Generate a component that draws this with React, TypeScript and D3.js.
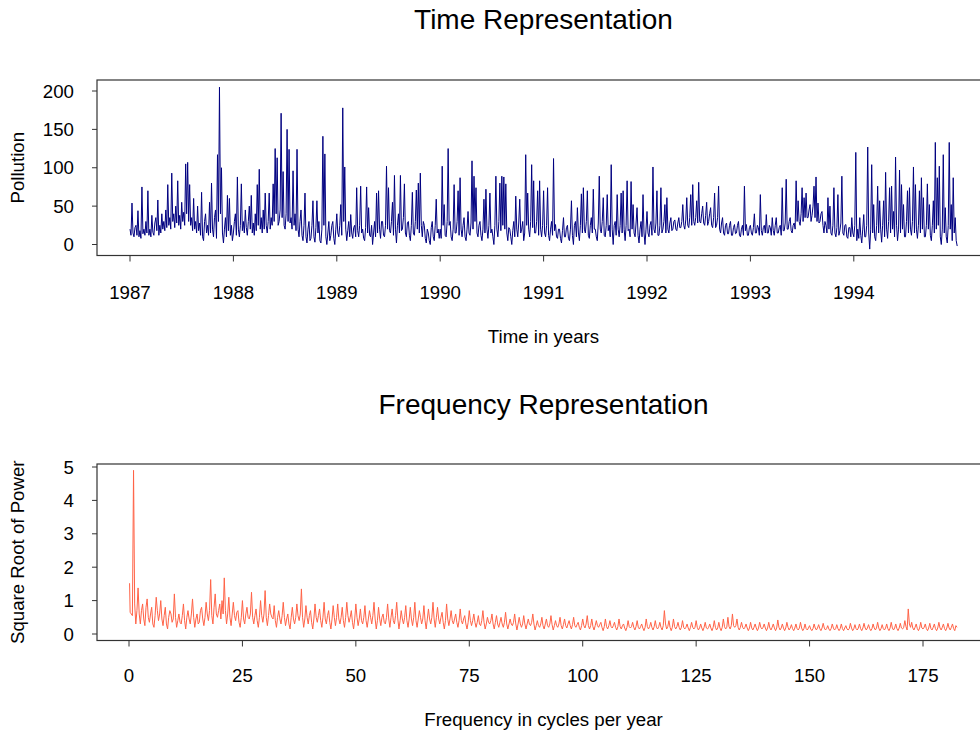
import React from 'react';
import * as d3 from 'd3';

// pollution readings, two per week, one array per year
const pollution1987 = [
  20, 12, 54, 15, 10, 22, 25, 12, 44, 10, 18, 8, 75, 14, 20, 12, 30, 15, 70, 12, 20, 10, 38, 16,
  12, 28, 35, 18, 58, 12, 25, 15, 40, 20, 30, 18, 45, 22, 78, 25, 35, 20, 93, 30, 40, 22, 50, 28,
  83, 25, 38, 20, 55, 30, 42, 25, 105, 40, 107, 30, 78, 25, 35, 18, 60, 20, 30, 15, 50, 18, 28, 12,
  68, 10, 5, 30, 40, 15, 25, 12, 55, 15, 80, 20, 10, 35, 45, 8, 117, 30, 205, 40, 100, 15, 2, 20,
  35, 10, 64, 18, 60, 12, 25, 5,
];
const pollution1988 = [
  15, 30, 40, 12, 88, 20, 10, 25, 79, 18, 30, 15, 45, 22, 12, 30, 50, 20, 64, 15, 28, 12, 40, 18,
  78, 25, 98, 20, 35, 15, 45, 20, 67, 25, 15, 30, 67, 20, 35, 25, 79, 30, 125, 40, 113, 25, 30, 45,
  171, 35, 95, 25, 20, 40, 150, 30, 124, 28, 35, 20, 96, 25, 40, 18, 124, 20, 10, 30, 45, 12, 5, 25,
  67, 10, 2, 20, 30, 5, 8, 25, 57, 10, 3, 22, 57, 15, 30, 5, 2, 20, 141, 25, 118, 10, 0, 15,
  30, 5, 12, 25, 30, 8, 0, 20,
];
const pollution1989 = [
  40, 15, 10, 25, 52, 12, 178, 30, 101, 20, 5, 18, 30, 10, 39, 15, 8, 22, 25, 10, 74, 18, 10, 25,
  76, 15, 20, 8, 5, 22, 75, 15, 48, 12, 10, 25, 0, 15, 30, 10, 67, 15, 70, 20, 8, 30, 30, 12,
  10, 25, 102, 20, 74, 18, 15, 30, 55, 12, 90, 20, 2, 25, 40, 15, 90, 18, 20, 35, 79, 15, 10, 28,
  30, 12, 5, 25, 68, 15, 12, 30, 71, 20, 80, 15, 93, 25, 10, 30, 25, 8, 2, 20, 15, 5, 0, 22,
  30, 10, 5, 25, 59, 15, 20, 8,
];
const pollution1990 = [
  20, 8, 102, 25, 52, 12, 10, 30, 125, 25, 30, 10, 5, 20, 78, 15, 15, 30, 70, 12, 87, 20, 10, 25,
  35, 10, 5, 20, 43, 15, 12, 28, 109, 20, 89, 30, 74, 15, 10, 25, 30, 12, 5, 20, 59, 15, 72, 20,
  8, 25, 67, 15, 20, 10, 0, 25, 89, 20, 10, 30, 80, 18, 89, 25, 88, 20, 79, 15, 5, 22, 20, 10,
  0, 18, 30, 10, 63, 20, 10, 28, 59, 15, 20, 30, 5, 15, 117, 25, 67, 20, 10, 30, 104, 22, 83, 15,
  15, 30, 70, 12, 83, 20, 10, 25,
];
const pollution1991 = [
  70, 15, 10, 25, 74, 12, 5, 20, 30, 12, 112, 18, 26, 10, 8, 20, 20, 8, 2, 18, 35, 10, 10, 22,
  25, 8, 5, 20, 57, 12, 0, 25, 30, 10, 48, 15, 5, 25, 66, 15, 74, 20, 15, 30, 70, 12, 8, 25,
  35, 15, 72, 20, 20, 10, 5, 28, 89, 20, 15, 30, 61, 12, 10, 25, 65, 18, 25, 10, 104, 20, 0, 25,
  30, 12, 65, 20, 10, 25, 67, 15, 70, 20, 5, 25, 83, 18, 20, 10, 82, 20, 52, 15, 10, 28, 48, 12,
  2, 20, 30, 10, 65, 15, 0, 20,
];
const pollution1992 = [
  43, 15, 10, 25, 30, 12, 101, 20, 15, 28, 70, 12, 12, 25, 74, 15, 20, 30, 52, 15, 61, 20, 15, 28,
  35, 18, 20, 30, 32, 20, 18, 28, 35, 22, 22, 30, 52, 25, 20, 32, 61, 25, 22, 35, 65, 25, 78, 30,
  25, 35, 57, 28, 81, 30, 28, 40, 50, 28, 25, 38, 55, 25, 30, 40, 48, 25, 22, 35, 67, 22, 25, 35,
  76, 20, 15, 28, 35, 15, 12, 25, 28, 14, 14, 25, 30, 12, 12, 22, 26, 14, 15, 25, 30, 12, 10, 20,
  25, 12, 76, 18, 26, 12, 12, 22,
];
const pollution1993 = [
  25, 15, 12, 22, 40, 15, 15, 25, 22, 12, 65, 18, 12, 22, 25, 15, 39, 15, 15, 25, 22, 12, 35, 18,
  12, 25, 35, 15, 15, 22, 25, 12, 74, 18, 18, 28, 85, 20, 20, 30, 35, 18, 15, 25, 28, 20, 83, 30,
  57, 30, 25, 40, 74, 30, 61, 35, 67, 35, 35, 45, 52, 30, 38, 50, 76, 35, 88, 30, 54, 28, 30, 40,
  43, 25, 15, 30, 25, 15, 61, 20, 50, 15, 12, 25, 74, 15, 10, 22, 65, 12, 18, 28, 89, 15, 12, 25,
  26, 10, 8, 22, 22, 10, 35, 15,
];
const pollution1994 = [
  10, 25, 120, 5, 20, 8, 35, 12, 2, 20, 39, 10, 10, 25, 127, 15, -6, 20, 104, 15, 52, 10, 5, 25,
  76, 15, 57, 20, 3, 25, 57, 10, 94, 20, 8, 30, 74, 15, 76, 20, 43, 10, 114, 25, 5, 20, 97, 15,
  78, 20, 52, 10, 10, 30, 70, 15, 74, 20, 12, 30, 101, 15, 78, 20, 8, 25, 70, 15, 87, 20, 61, 10,
  10, 25, 79, 20, 52, 12, 5, 25, 57, 15, 133, 20, 87, 25, 102, 10, 0, 20, 117, 15, 48, 10, 2, 25,
  133, 20, 52, 5, 87, 15, 35, 5, -2,
];

const years = [1987, 1988, 1989, 1990, 1991, 1992, 1993, 1994];
const pollutionTicks = [0, 50, 100, 150, 200];

// spectrum: the lowest frequencies, then readings every quarter cycle per year from 2 to 182.5
const lowFreqs = [0.125, 0.25, 0.5, 0.75, 1, 1.25, 1.5, 1.75];
const lowPower = [1.52, 0.65, 0.6, 0.55, 4.9, 0.9, 0.3, 0.7];
const powerFrom2 = [
  1.38, 0.6, 0.3, 0.7, 0.9, 0.45, 0.25, 0.8, 1.05, 0.5, 0.35, 0.6, 0.8, 0.3, 0.2, 0.55, 1.1, 0.7, 0.4, 0.6,
  1.0, 0.45, 0.25, 0.55, 0.8, 0.3, 0.15, 0.5, 0.7, 0.6, 0.35, 0.45, 1.2, 0.5, 0.2, 0.4, 0.6, 0.35, 0.3, 0.55,
  0.9, 0.4, 0.15, 0.5, 0.7, 0.45, 0.3, 0.6, 1.05, 0.5, 0.2, 0.45, 0.6, 0.3, 0.35, 0.7, 0.8, 0.45, 0.25, 0.5,
  0.95, 0.6, 0.4, 0.7, 1.63, 0.55, 0.3, 0.8, 1.2, 0.6, 0.5, 0.7, 0.9, 0.45, 1.0, 0.6, 1.68, 0.7, 0.3, 0.6,
  1.1, 0.5, 0.25, 0.6, 0.95, 0.55, 0.4, 0.65, 0.7, 0.35, 0.2, 0.5, 1.0, 0.45, 0.3, 0.6, 0.8, 0.5, 0.45, 0.6,
  1.25, 0.5, 0.3, 0.55, 0.75, 0.4, 0.2, 0.5, 1.0, 0.55, 0.35, 0.6, 1.3, 0.5, 0.25, 0.55, 0.9, 0.6, 0.5, 0.45,
  0.85, 0.4, 0.2, 0.5, 0.7, 0.45, 0.3, 0.55, 0.95, 0.5, 0.25, 0.45, 0.6, 0.3, 0.15, 0.5, 0.8, 0.45, 0.3, 0.5,
  0.9, 0.55, 0.4, 0.6, 1.35, 0.5, 0.2, 0.45, 0.85, 0.5, 0.3, 0.55, 0.7, 0.35, 0.15, 0.45, 0.9, 0.5, 0.35, 0.55,
  0.75, 0.4, 0.2, 0.5, 0.95, 0.45, 0.3, 0.55, 0.7, 0.35, 0.15, 0.45, 0.85, 0.5, 0.25, 0.5, 0.9, 0.45, 0.3, 0.5,
  0.8, 0.4, 0.2, 0.5, 0.95, 0.55, 0.35, 0.5, 0.7, 0.35, 0.15, 0.45, 0.9, 0.5, 0.25, 0.45, 0.75, 0.4, 0.3, 0.5,
  0.85, 0.4, 0.2, 0.45, 0.7, 0.5, 0.3, 0.55, 0.95, 0.45, 0.15, 0.4, 0.8, 0.45, 0.25, 0.5, 0.6, 0.35, 0.3, 0.5,
  0.9, 0.45, 0.2, 0.5, 0.75, 0.4, 0.3, 0.55, 0.95, 0.45, 0.15, 0.4, 0.7, 0.45, 0.3, 0.5, 0.85, 0.4, 0.2, 0.45,
  0.8, 0.45, 0.25, 0.5, 0.95, 0.4, 0.2, 0.45, 0.7, 0.5, 0.3, 0.45, 0.85, 0.4, 0.15, 0.45, 0.75, 0.45, 0.3, 0.5,
  0.95, 0.45, 0.2, 0.5, 0.8, 0.45, 0.3, 0.5, 0.65, 0.35, 0.15, 0.4, 0.9, 0.45, 0.25, 0.45, 0.7, 0.4, 0.3, 0.45,
  0.6, 0.35, 0.2, 0.4, 0.75, 0.4, 0.3, 0.45, 0.55, 0.3, 0.15, 0.35, 0.7, 0.4, 0.25, 0.4, 0.6, 0.35, 0.2, 0.35,
  0.55, 0.3, 0.25, 0.4, 0.7, 0.35, 0.15, 0.3, 0.5, 0.35, 0.3, 0.4, 0.6, 0.3, 0.15, 0.35, 0.55, 0.3, 0.2, 0.35,
  0.5, 0.3, 0.2, 0.35, 0.65, 0.3, 0.15, 0.3, 0.45, 0.3, 0.25, 0.35, 0.6, 0.3, 0.12, 0.3, 0.5, 0.3, 0.2, 0.3,
  0.55, 0.3, 0.15, 0.3, 0.45, 0.3, 0.25, 0.35, 0.6, 0.3, 0.12, 0.25, 0.4, 0.25, 0.2, 0.3, 0.5, 0.25, 0.15, 0.3,
  0.45, 0.25, 0.2, 0.3, 0.55, 0.28, 0.12, 0.25, 0.4, 0.25, 0.2, 0.3, 0.5, 0.25, 0.15, 0.28, 0.45, 0.25, 0.18, 0.3,
  0.4, 0.25, 0.15, 0.28, 0.5, 0.25, 0.2, 0.28, 0.35, 0.2, 0.12, 0.25, 0.45, 0.25, 0.18, 0.3, 0.55, 0.25, 0.15, 0.25,
  0.45, 0.22, 0.12, 0.25, 0.4, 0.25, 0.2, 0.28, 0.35, 0.2, 0.1, 0.22, 0.45, 0.22, 0.15, 0.25, 0.4, 0.22, 0.18, 0.25,
  0.35, 0.2, 0.12, 0.22, 0.45, 0.22, 0.15, 0.25, 0.3, 0.18, 0.1, 0.2, 0.4, 0.22, 0.18, 0.22, 0.35, 0.2, 0.12, 0.22,
  0.4, 0.2, 0.15, 0.22, 0.3, 0.18, 0.1, 0.2, 0.45, 0.22, 0.15, 0.22, 0.35, 0.2, 0.12, 0.22, 0.4, 0.2, 0.15, 0.22,
  0.35, 0.2, 0.12, 0.25, 0.7, 0.3, 0.15, 0.22, 0.4, 0.2, 0.1, 0.2, 0.45, 0.22, 0.15, 0.22, 0.35, 0.2, 0.12, 0.2,
  0.4, 0.2, 0.15, 0.2, 0.3, 0.18, 0.1, 0.2, 0.35, 0.2, 0.15, 0.2, 0.4, 0.2, 0.12, 0.18, 0.3, 0.18, 0.1, 0.2,
  0.35, 0.18, 0.15, 0.2, 0.3, 0.18, 0.1, 0.2, 0.4, 0.2, 0.12, 0.18, 0.35, 0.18, 0.1, 0.2, 0.45, 0.22, 0.15, 0.2,
  0.5, 0.22, 0.15, 0.25, 0.6, 0.25, 0.2, 0.25, 0.45, 0.2, 0.12, 0.2, 0.35, 0.2, 0.15, 0.2, 0.3, 0.18, 0.1, 0.18,
  0.35, 0.18, 0.12, 0.2, 0.3, 0.18, 0.1, 0.18, 0.35, 0.2, 0.15, 0.2, 0.3, 0.18, 0.1, 0.18, 0.35, 0.18, 0.12, 0.2,
  0.3, 0.18, 0.1, 0.18, 0.42, 0.2, 0.12, 0.18, 0.3, 0.18, 0.1, 0.18, 0.35, 0.2, 0.12, 0.18, 0.28, 0.16, 0.1, 0.18,
  0.3, 0.16, 0.12, 0.18, 0.35, 0.18, 0.1, 0.16, 0.3, 0.16, 0.12, 0.18, 0.25, 0.15, 0.1, 0.16, 0.3, 0.18, 0.12, 0.18,
  0.28, 0.16, 0.1, 0.18, 0.32, 0.18, 0.12, 0.16, 0.25, 0.15, 0.1, 0.16, 0.3, 0.18, 0.12, 0.16, 0.28, 0.16, 0.1, 0.16,
  0.3, 0.16, 0.1, 0.18, 0.25, 0.15, 0.12, 0.16, 0.32, 0.18, 0.1, 0.16, 0.28, 0.16, 0.12, 0.18, 0.3, 0.16, 0.1, 0.18,
  0.32, 0.18, 0.12, 0.18, 0.28, 0.16, 0.1, 0.16, 0.3, 0.18, 0.12, 0.18, 0.35, 0.18, 0.1, 0.16, 0.28, 0.16, 0.12, 0.18,
  0.3, 0.16, 0.1, 0.18, 0.35, 0.18, 0.12, 0.18, 0.3, 0.16, 0.1, 0.18, 0.32, 0.18, 0.15, 0.2, 0.4, 0.22, 0.12, 0.75,
  0.3, 0.2, 0.35, 0.18, 0.12, 0.2, 0.3, 0.16, 0.1, 0.18, 0.35, 0.18, 0.15, 0.2, 0.3, 0.16, 0.1, 0.18, 0.32, 0.16,
  0.12, 0.2, 0.3, 0.16, 0.1, 0.18, 0.35, 0.18, 0.12, 0.2, 0.3, 0.16, 0.1, 0.18, 0.32, 0.18, 0.12, 0.2, 0.3, 0.16,
  0.1, 0.25, 0.2,
];
const freqTicks = [0, 25, 50, 75, 100, 125, 150, 175];
const powerTicks = [0, 1, 2, 3, 4, 5];

const font = '"Liberation Sans", Arial, sans-serif';

const App = () => {
  const pollution = [
    ...pollution1987, ...pollution1988, ...pollution1989, ...pollution1990,
    ...pollution1991, ...pollution1992, ...pollution1993, ...pollution1994,
  ];
  const timeData = pollution.map((v, i) => [1987 + i / 104, v]);
  const specData = [
    ...lowFreqs.map((f, i) => [f, lowPower[i]]),
    ...powerFrom2.map((v, i) => [2 + i * 0.25, v]),
  ];

  const xTime = d3.scaleLinear().domain([1987, 1995]).range([130, 957.2]);
  const yTime = d3.scaleLinear().domain([0, 200]).range([244.5, 91]);
  const xFreq = d3.scaleLinear().domain([0, 175]).range([129, 923]);
  const yFreq = d3.scaleLinear().domain([0, 5]).range([634, 467]);

  const timeLine = d3.line().x(d => xTime(d[0])).y(d => yTime(d[1]));
  const freqLine = d3.line().x(d => xFreq(d[0])).y(d => yFreq(d[1]));

  const left = 97, right = 990;
  const top1 = 80, bottom1 = 255.5;
  const top2 = 464, bottom2 = 640.5;

  return (
    <svg width={980} height={732} style={{ position: 'absolute', left: 0, top: 0, background: '#fff' }}
      fontFamily={font}>
      {/* time representation */}
      <text x={543.5} y={29} fontSize={28} textAnchor='middle'>Time Representation</text>
      <path d={timeLine(timeData)} fill='none' stroke='#000080' strokeWidth={1} strokeLinejoin='round' />
      <rect x={left} y={top1} width={right - left} height={bottom1 - top1} fill='none' stroke='#333' strokeWidth={1.2} />
      {pollutionTicks.map(t => (
        <g key={t}>
          <line x1={left - 5} x2={left} y1={yTime(t)} y2={yTime(t)} stroke='#333' />
          <text x={74} y={yTime(t)} dy='0.35em' fontSize={18.67} textAnchor='end'>{t}</text>
        </g>
      ))}
      {years.map(t => (
        <g key={t}>
          <line x1={xTime(t)} x2={xTime(t)} y1={bottom1} y2={bottom1 + 6} stroke='#333' />
          <text x={xTime(t)} y={bottom1 + 43} fontSize={18.67} textAnchor='middle'>{t}</text>
        </g>
      ))}
      <text x={543.5} y={342.5} fontSize={18.67} textAnchor='middle'>Time in years</text>
      <text transform={`translate(24,${(top1 + bottom1) / 2}) rotate(-90)`} fontSize={18.67} textAnchor='middle'>Pollution</text>

      {/* frequency representation */}
      <text x={543.5} y={414} fontSize={28} textAnchor='middle'>Frequency Representation</text>
      <path d={freqLine(specData)} fill='none' stroke='#FF6347' strokeWidth={1} strokeLinejoin='round' />
      <rect x={left} y={top2} width={right - left} height={bottom2 - top2} fill='none' stroke='#333' strokeWidth={1.2} />
      {powerTicks.map(t => (
        <g key={t}>
          <line x1={left - 5} x2={left} y1={yFreq(t)} y2={yFreq(t)} stroke='#333' />
          <text x={74} y={yFreq(t)} dy='0.35em' fontSize={18.67} textAnchor='end'>{t}</text>
        </g>
      ))}
      {freqTicks.map(t => (
        <g key={t}>
          <line x1={xFreq(t)} x2={xFreq(t)} y1={bottom2} y2={bottom2 + 6} stroke='#333' />
          <text x={xFreq(t)} y={bottom2 + 41} fontSize={18.67} textAnchor='middle'>{t}</text>
        </g>
      ))}
      <text x={543.5} y={725.5} fontSize={18.67} textAnchor='middle'>Frequency in cycles per year</text>
      <text transform={`translate(24,${(top2 + bottom2) / 2}) rotate(-90)`} fontSize={18.67} textAnchor='middle'>Square Root of Power</text>
    </svg>
  );
};

export default App;
